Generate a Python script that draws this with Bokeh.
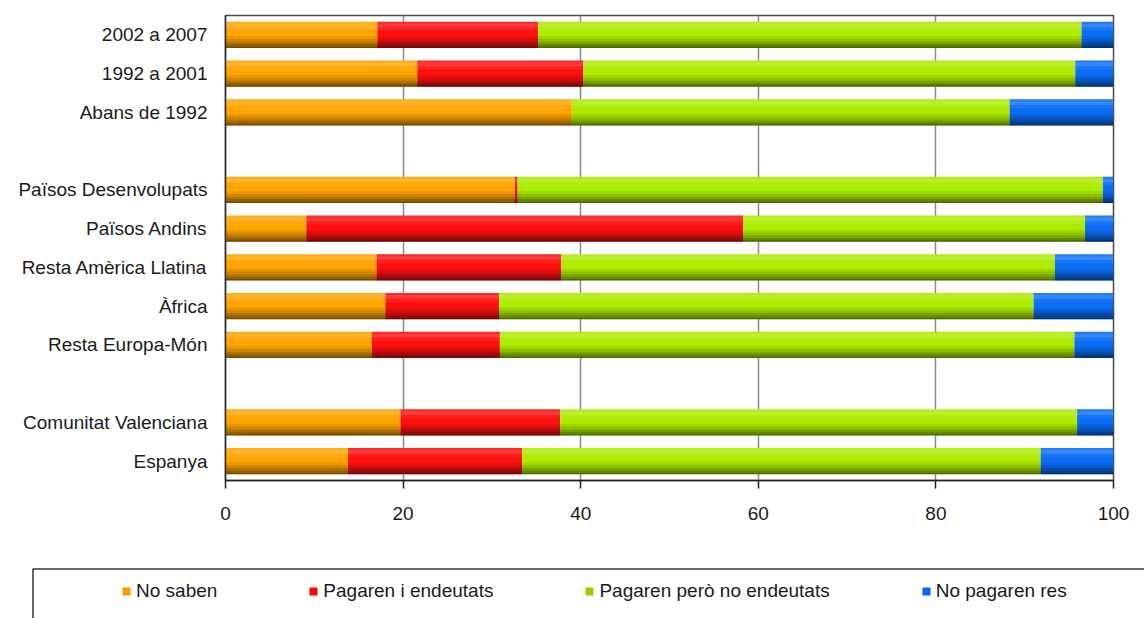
import numpy as np
from bokeh.plotting import figure
from bokeh.layouts import column
from bokeh.models import (ColumnDataSource, FactorRange, Range1d, FixedTicker,
                          Legend, LegendItem, BoxAnnotation)
from bokeh.transform import dodge
from bokeh.embed import file_html
from bokeh.resources import INLINE

# ---- data -------------------------------------------------------------
# category slots from top to bottom (blank strings are the gaps between groups)
slots = ["2002 a 2007", "1992 a 2001", "Abans de 1992", " ",
         "Països Desenvolupats", "Països Andins", "Resta Amèrica Llatina",
         "Àfrica", "Resta Europa-Món", "  ",
         "Comunitat Valenciana", "Espanya"]
categories = [c for c in slots if c.strip()]

no_saben     = [17.1, 21.6, 39.0, 32.6,  9.1, 17.0, 18.0, 16.5, 19.7, 13.8]
endeutats    = [18.1, 18.7,  0.0,  0.3, 49.2, 20.8, 12.8, 14.4, 18.0, 19.6]
no_endeutats = [61.2, 55.4, 49.3, 65.9, 38.5, 55.6, 60.2, 64.7, 58.2, 58.4]
res          = [ 3.6,  4.3, 11.7,  1.2,  3.2,  6.6,  9.0,  4.4,  4.1,  8.2]

series_names = ["No saben", "Pagaren i endeutats",
                "Pagaren però no endeutats", "No pagaren res"]
x_ticks = [0, 20, 40, 60, 80, 100]

# ---- styling ----------------------------------------------------------
bar_colors = ["#FFA400", "#FF1010", "#ADEB00", "#0A6EF5"]
legend_colors = ["#FF9900", "#FF0000", "#99CC00", "#0066FF"]
FONT = "Liberation Sans"
TXT = "#1a1a1a"
BAR_H = 0.68
W = 1144

keys = ["s0", "s1", "s2", "s3"]
src = ColumnDataSource(dict(
    cat=categories, s0=no_saben, s1=endeutats, s2=no_endeutats, s3=res,
    total=list(np.sum([no_saben, endeutats, no_endeutats, res], axis=0)),
))

p = figure(width=W, height=560, output_backend="svg", toolbar_location=None,
           y_range=FactorRange(factors=list(reversed(slots))),
           x_range=Range1d(0, 100),
           min_border_left=225, min_border_right=31,
           min_border_top=15, min_border_bottom=80)
p.background_fill_color = "white"
p.border_fill_color = "white"
p.outline_line_color = "#4a4a4a"
p.outline_line_width = 1.5

renderers = p.hbar_stack(keys, y="cat", height=BAR_H, color=bar_colors,
                         line_color=None, source=src)

# shading bands (top light, bottom dark) to mimic the 3D gradient
bands = [  # (fraction from top start, end, color, alpha)
    (0.00, 0.08, "white", 0.10),
    (0.08, 0.22, "white", 0.18),
    (0.22, 0.35, "white", 0.06),
    (0.55, 0.66, "black", 0.08),
    (0.66, 0.76, "black", 0.18),
    (0.76, 0.85, "black", 0.30),
    (0.85, 0.93, "black", 0.42),
    (0.93, 1.00, "black", 0.55),
]
for f0, f1, c, a in bands:
    h = (f1 - f0) * BAR_H
    off = BAR_H / 2 - (f0 + f1) / 2 * BAR_H
    p.hbar(y=dodge("cat", off, range=p.y_range), left=0, right="total",
           height=h, fill_color=c, fill_alpha=a, line_color=None, source=src)

# grid
p.ygrid.grid_line_color = None
p.xgrid.grid_line_color = "#8a8a8a"
p.xgrid.grid_line_width = 1.5
p.xgrid.ticker = FixedTicker(ticks=x_ticks)

# x axis
xa = p.xaxis[0]
xa.ticker = FixedTicker(ticks=x_ticks)
xa.axis_line_color = "#202020"
xa.axis_line_width = 1.5
xa.major_tick_line_color = "#202020"
xa.major_tick_line_width = 1.5
xa.major_tick_out = 8
xa.major_tick_in = 0
xa.minor_tick_line_color = None
xa.major_label_text_font = FONT
xa.major_label_text_font_size = "19px"
xa.major_label_text_color = TXT
xa.major_label_standoff = 18

# y axis
ya = p.yaxis[0]
ya.axis_line_color = "#303030"
ya.axis_line_width = 1.5
ya.major_tick_line_color = None
ya.minor_tick_line_color = None
ya.major_label_text_font = FONT
ya.major_label_text_font_size = "19px"
ya.major_label_text_color = TXT
ya.major_label_standoff = 12

# ---- legend strip (pixel-space figure below the chart) ----------------
LH = 58
p2 = figure(width=W, height=LH, output_backend="svg", toolbar_location=None,
            x_range=Range1d(0, W), y_range=Range1d(0, LH),
            min_border_left=0, min_border_right=0,
            min_border_top=0, min_border_bottom=0)
p2.axis.visible = False
p2.grid.visible = False
p2.outline_line_color = None
p2.background_fill_color = "white"
p2.border_fill_color = "white"

# legend frame: top and left edges visible, rest runs off the page
p2.add_layout(BoxAnnotation(left=32.5, right=W + 60, top=LH - 8.5, bottom=-40,
                            fill_alpha=0, line_color="#333333",
                            line_alpha=1.0, line_width=1.5))

# swatch renderers for the legend keys (one point each, kept out of view)
swatches = [p2.hbar(y=[-100], left=[0], right=[1], height=1, fill_color=c,
                    line_color=None) for c in legend_colors]
legend = Legend(items=[LegendItem(label=n, renderers=[r])
                       for n, r in zip(series_names, swatches)],
                location=(121, 16), orientation="horizontal",
                border_line_color=None, background_fill_alpha=0,
                glyph_width=10, glyph_height=10, label_standoff=5,
                spacing=91, padding=0, margin=0, label_height=20,
                label_text_font=FONT, label_text_font_size="19px",
                label_text_color=TXT)
p2.add_layout(legend, "center")

layout = column(p, column(p2, spacing=0), spacing=0)
open("out.html", "w").write(file_html(layout, INLINE))
